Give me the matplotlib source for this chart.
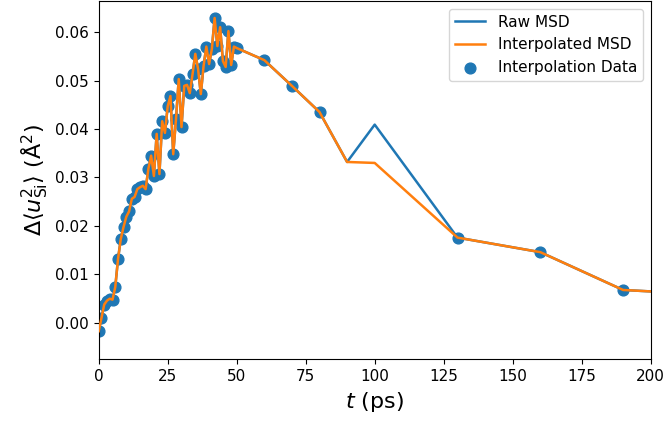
import matplotlib.pyplot as plt
import numpy as np

# interpolation data points (ps, A^2)
t_data = list(range(0, 51)) + [60, 70, 80, 130, 160, 190]
u_data = [-0.0017, 0.0010, 0.0038, 0.0046, 0.0050, 0.0048, 0.0074, 0.0132, 0.0173, 0.0198,
          0.0219, 0.0230, 0.0256, 0.0260, 0.0276, 0.0280, 0.0283, 0.0276, 0.0318, 0.0345,
          0.0303, 0.0390, 0.0307, 0.0416, 0.0392, 0.0447, 0.0468, 0.0348, 0.0420, 0.0503,
          0.0404, 0.0489, 0.0491, 0.0474, 0.0513, 0.0555, 0.0524, 0.0472, 0.0530, 0.0570,
          0.0534, 0.0565, 0.0629, 0.0571, 0.0610, 0.0540, 0.0528, 0.0602, 0.0532, 0.0570,
          0.0567,
          0.0542, 0.0489, 0.0435, 0.0176, 0.0146, 0.0068]

# full curves: data grid plus the extra points at 90, 100 and 200 ps
t_extra = [90, 100, 200]
raw_extra = [0.0332, 0.0409, 0.0065]
interp_extra = [0.0332, 0.0330, 0.0065]

t_all = np.array(t_data + t_extra)
raw_all = np.array(u_data + raw_extra)
interp_all = np.array(u_data + interp_extra)
order = np.argsort(t_all)

fig = plt.figure(figsize=(6.67, 4.21), dpi=100)
ax = fig.add_axes([98.7 / 667, 1 - 359.3 / 421, (650.7 - 98.7) / 667, (359.3 - 1) / 421])

sc = ax.scatter(t_data, u_data, s=60, color='tab:blue', label='Interpolation Data', zorder=1)
l1, = ax.plot(t_all[order], raw_all[order], color='tab:blue', lw=1.8, label='Raw MSD', zorder=2)
l2, = ax.plot(t_all[order], interp_all[order], color='tab:orange', lw=1.8, label='Interpolated MSD', zorder=3)

ax.set_xlim(0, 200)
ax.set_ylim(-0.0075, 0.0664)
ax.tick_params(labelsize=11)
ax.set_xlabel(r'$t$ (ps)', fontsize=16)
ax.set_ylabel(r'$\Delta\langle u_{\rm Si}^2\rangle$ (Å$^2$)', fontsize=16)
ax.legend(handles=[l1, l2, sc], loc='upper right', fontsize=11)

fig.savefig('out.png')
